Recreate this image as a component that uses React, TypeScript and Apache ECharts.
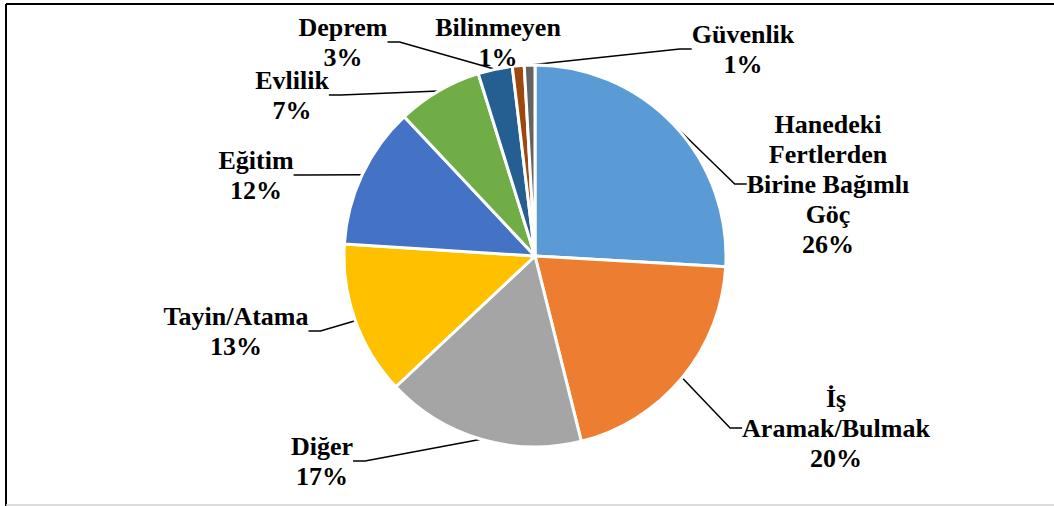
import React, { useEffect, useRef } from "react";
import * as echarts from "echarts";

const categories = [
  "Hanedeki\nFertlerden\nBirine Bağımlı\nGöç",
  "İş\nAramak/Bulmak",
  "Diğer",
  "Tayin/Atama",
  "Eğitim",
  "Evlilik",
  "Deprem",
  "Bilinmeyen",
  "Güvenlik",
];
const values = [25.9, 20.2, 16.9, 13.0, 12.0, 7.2, 2.9, 1.0, 0.9];
const colors = ["#5B9BD5", "#ED7D31", "#A5A5A5", "#FFC000", "#4472C4", "#70AD47", "#255E91", "#9E480E", "#636363"];
// label block centres
const labelPos: [number, number][] = [
  [828, 184],
  [836, 428],
  [322, 461],
  [236, 331],
  [256, 175],
  [292, 95],
  [343, 42],
  [498, 42],
  [743, 49],
];

export default function App() {
  const ref = useRef<HTMLDivElement>(null);
  useEffect(() => {
    const chart = echarts.init(ref.current!, null, { renderer: "svg" });
    chart.setOption({
      animation: false,
      backgroundColor: "#fff",
      graphic: [
        { type: "line", shape: { x1: 6, y1: 4, x2: 1054, y2: 4 }, style: { stroke: "#000", lineWidth: 2 } },
        { type: "line", shape: { x1: 6, y1: 4, x2: 6, y2: 506 }, style: { stroke: "#000", lineWidth: 2 } },
        { type: "line", shape: { x1: 6, y1: 505, x2: 1054, y2: 505 }, style: { stroke: "#d0d0d0", lineWidth: 1.5 } },
      ],
      series: [
        {
          type: "pie",
          center: [535, 256],
          radius: 191,
          startAngle: 90,
          clockwise: true,
          avoidLabelOverlap: false,
          itemStyle: { borderColor: "#fff", borderWidth: 3 },
          label: {
            show: true,
            fontFamily: "Liberation Serif",
            fontWeight: "bold",
            fontSize: 26,
            lineHeight: 30,
            color: "#000",
            align: "center",
            formatter: (p: any) => `${p.name}\n${Math.round(p.percent)}%`,
          },
          labelLine: { show: true, length: 15, length2: 12, lineStyle: { color: "#000", width: 1.5 } },
          labelLayout: (p: any) => {
            const pos = labelPos[p.dataIndex];
            return { x: pos[0], y: pos[1], align: "center", verticalAlign: "middle" };
          },
          data: categories.map((c, i) => ({ name: c, value: values[i], itemStyle: { color: colors[i] } })),
        },
      ],
    });
    return () => chart.dispose();
  }, []);
  return <div ref={ref} style={{ position: "absolute", left: 0, top: 0, width: 1054, height: 506 }} />;
}
